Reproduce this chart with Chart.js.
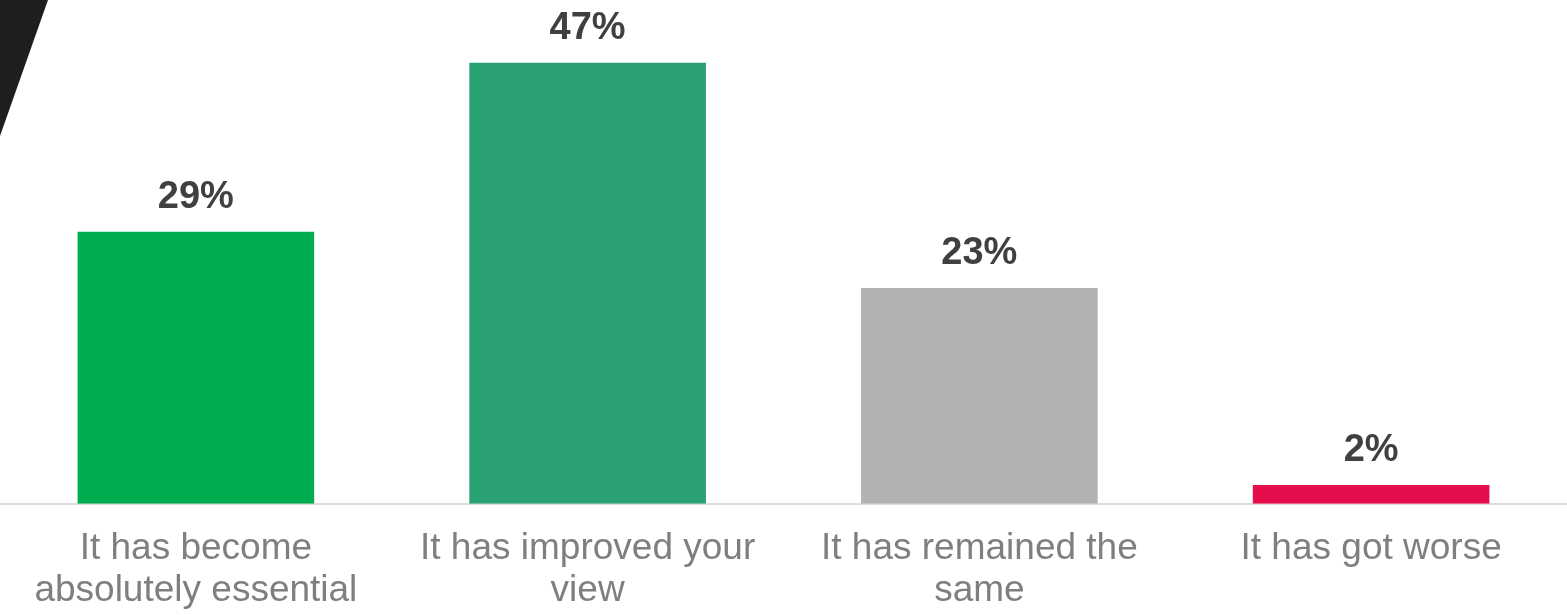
<!DOCTYPE html>
<html>
<head>
<meta charset="utf-8">
<script src="https://cdn.jsdelivr.net/npm/chart.js@4/dist/chart.umd.min.js"></script>
<style>
    html, body { margin: 0; padding: 0; background: #ffffff; overflow: hidden; }
    #frame { width: 1567px; height: 615px; overflow: hidden; }
    #wrap { width: 1567px; height: 636px; position: relative; }
</style>
</head>
<body>
<div id="frame"><div id="wrap"><canvas id="viewChart"></canvas></div></div>
<script>
// Ответы на вопрос о том, как изменилось отношение
const categories = [
    ['It has become', 'absolutely essential'],
    ['It has improved your', 'view'],
    ['It has remained the', 'same'],
    ['It has got worse']
];
const shares = [29, 47, 23, 2];
const barColors = ['#00ae4f', '#29a173', '#b2b2b2', '#e50d4b'];

// Тёмный уголок в левом верхнем углу
const cornerPlugin = {
    id: 'corner',
    beforeDraw(chart) {
        const ctx = chart.ctx;
        ctx.save();
        ctx.fillStyle = '#1e1e1e';
        ctx.beginPath();
        ctx.moveTo(0, 0);
        ctx.lineTo(48, 0);
        ctx.lineTo(0, 136);
        ctx.closePath();
        ctx.fill();
        ctx.restore();
    }
};

// Подписи значений над столбцами
const valueLabels = {
    id: 'valueLabels',
    afterDatasetsDraw(chart) {
        const ctx = chart.ctx;
        const meta = chart.getDatasetMeta(0);
        ctx.save();
        ctx.fillStyle = '#404040';
        ctx.font = 'bold 38px "Liberation Sans", Arial, sans-serif';
        ctx.textAlign = 'center';
        ctx.textBaseline = 'alphabetic';
        meta.data.forEach((bar, i) => {
            ctx.fillText(shares[i] + '%', bar.x, bar.y - 24);
        });
        ctx.restore();
    }
};

new Chart(document.getElementById('viewChart'), {
    type: 'bar',
    data: {
        labels: categories,
        datasets: [{
            data: shares,
            backgroundColor: barColors,
            borderWidth: 0,
            barPercentage: 0.604,
            categoryPercentage: 1
        }]
    },
    options: {
        responsive: true,
        maintainAspectRatio: false,
        animation: false,
        layout: { padding: { left: 0, right: 0, top: 0, bottom: 0 } },
        plugins: {
            legend: { display: false },
            tooltip: { enabled: false }
        },
        scales: {
            x: {
                grid: { display: false, drawTicks: false },
                border: { display: true, color: '#dedede', width: 2 },
                ticks: {
                    color: '#7f7f7f',
                    padding: 24,
                    maxRotation: 0,
                    autoSkip: false,
                    font: { family: '"Liberation Sans", Arial, sans-serif', size: 37, lineHeight: 1.14 }
                }
            },
            y: {
                display: false,
                min: 0,
                max: 53.7
            }
        }
    },
    plugins: [cornerPlugin, valueLabels]
});
</script>
</body>
</html>
